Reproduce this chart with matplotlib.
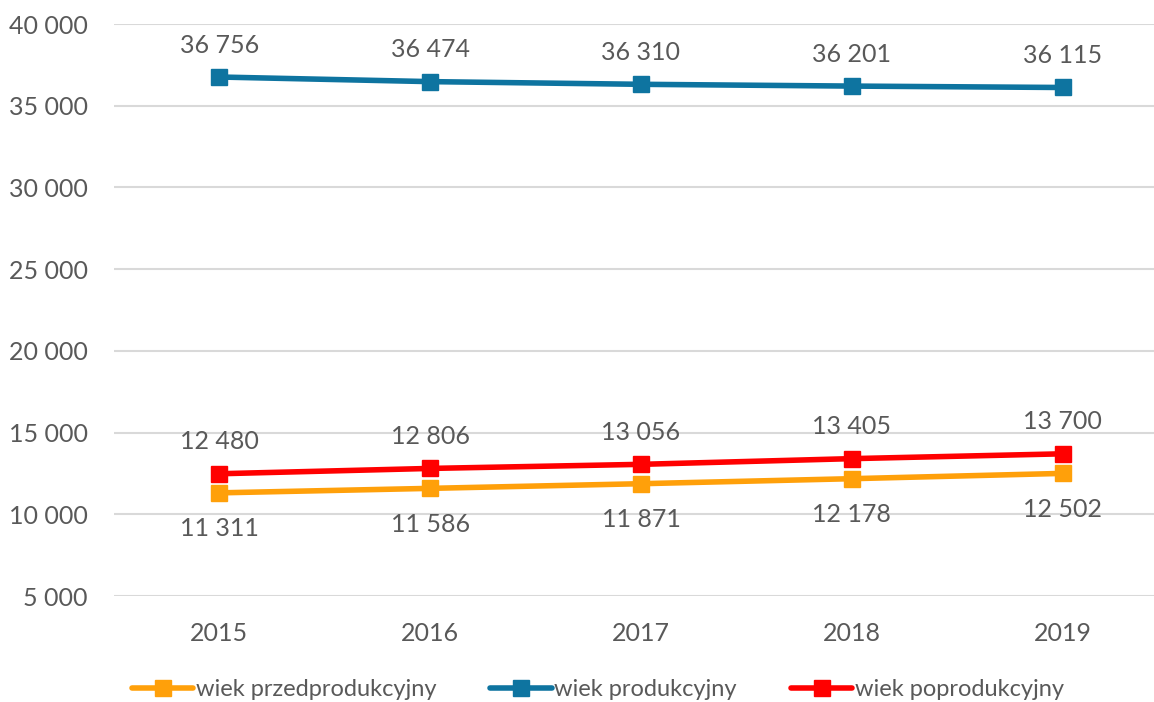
import matplotlib.pyplot as plt

years = ["2015", "2016", "2017", "2018", "2019"]
przed = [11311, 11586, 11871, 12178, 12502]
prod = [36756, 36474, 36310, 36201, 36115]
poprod = [12480, 12806, 13056, 13405, 13700]

plt.rcParams['font.family'] = ['Lato', 'DejaVu Sans']
txt = '#595959'
fs = 18


def fmt(v):
    return f"{v:,}".replace(",", " ")


fig = plt.figure(figsize=(11.54, 7.02), dpi=100)
ax = fig.add_axes([114 / 1154, 106 / 702, 1054 / 1154, 572 / 702])

x = range(len(years))
series = [
    ("wiek przedprodukcyjny", przed, '#FFA00A', -26),
    ("wiek produkcyjny", prod, '#0E74A0', 23),
    ("wiek poprodukcyjny", poprod, '#FF0000', 23),
]
for name, vals, col, off in series:
    ax.plot(x, vals, color=col, lw=4, marker='s', ms=11, label=name,
            solid_capstyle='round')
    for i, v in enumerate(vals):
        ax.annotate(fmt(v), (i, v), xytext=(0, off), textcoords='offset points',
                    ha='center', va='center', fontsize=fs, color=txt)

ax.set_ylim(5000, 40000)
ax.set_xlim(-0.5, 4.5)
ax.set_yticks(range(5000, 40001, 5000))
ax.set_yticklabels([fmt(v) for v in range(5000, 40001, 5000)])
ax.set_xticks(list(x))
ax.set_xticklabels(years)
ax.tick_params(axis='both', length=0, labelsize=fs, labelcolor=txt)
ax.tick_params(axis='y', pad=19)
ax.tick_params(axis='x', pad=19)
ax.grid(axis='y', color='#D9D9D9', lw=1.5)
ax.set_axisbelow(True)
for s in ax.spines.values():
    s.set_visible(False)

fig.legend(loc='center', bbox_to_anchor=(0.518, 0.018), ncol=3, frameon=False,
           fontsize=17, labelcolor=txt, handlelength=2.6, handletextpad=0.1,
           columnspacing=2.3)

fig.savefig('out.png', dpi=100)
